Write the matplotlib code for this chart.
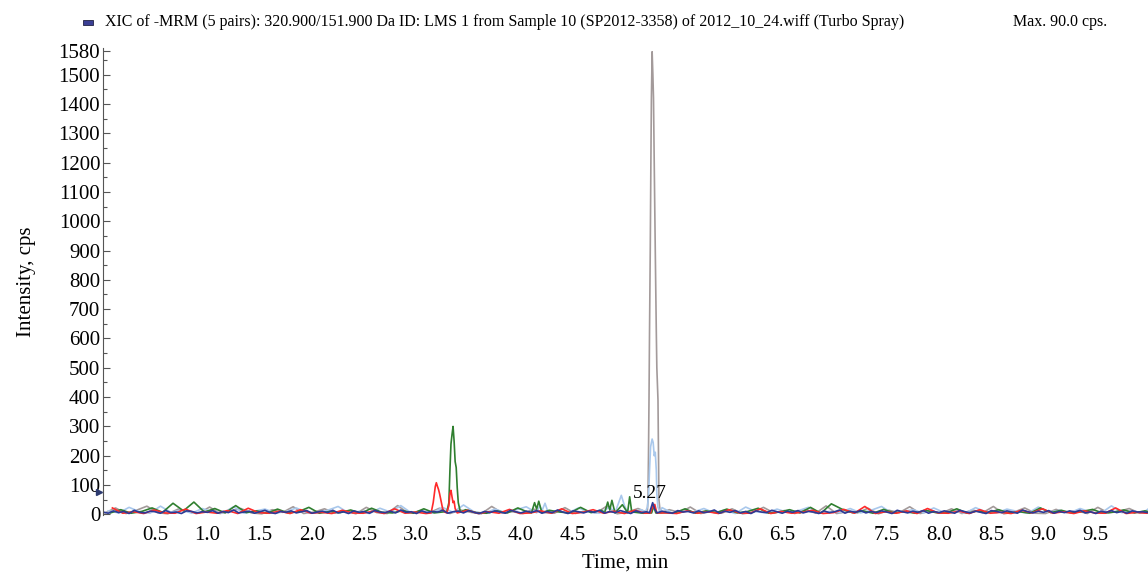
"""XIC chromatogram, 5 MRM pairs."""

import numpy as np
import matplotlib
matplotlib.use("Agg")
import matplotlib.pyplot as plt
import matplotlib.transforms as mtransforms

plt.rcParams["font.family"] = ["Liberation Serif", "DejaVu Serif"]

# Baseline noise (cps). Navy is read every 0.05 min, the others every 0.1 min.
noise_navy = [8, 4, 12, 6, 10, 3, 14, 7, 5, 11, 9, 4, 13, 6, 8, 3, 12, 10, 5, 9,
              7, 13, 4, 10, 6, 15, 5, 8, 11, 4, 9, 14, 6, 3, 10, 7, 12, 5, 9, 13,
              4, 8, 11, 6, 14, 5, 9, 3, 12, 7, 10, 4, 13, 8, 6, 11, 5, 15, 7, 9,
              3, 12, 6, 10, 8, 14, 4, 9, 11, 5, 13, 7, 3, 10, 6, 12, 8, 4, 14, 9,
              5, 11, 7, 13, 4, 10, 6, 15, 8, 3, 12, 9, 5, 11, 7, 14, 4, 10, 6, 13,
              8, 3, 12, 6, 9, 14, 5, 11, 7, 4, 13, 8, 10, 5, 12, 6, 9, 15, 4, 11,
              7, 13, 5, 10, 3, 12, 8, 6, 14, 9, 4, 11, 7, 13, 5, 10, 8, 3, 12, 6,
              9, 15, 4, 11, 7, 13, 5, 10, 6, 12, 8, 3, 14, 9, 5, 11, 7, 13, 4, 10,
              6, 12, 8, 4, 14, 9, 5, 11, 7, 3, 13, 10, 6, 12, 8, 4, 15, 9, 5, 11,
              7, 13, 4, 10, 6, 12, 8, 14, 5, 9, 3, 11, 7, 13, 6, 10, 4, 12, 8, 9, 6]
noise_gray = [5, 22, 3, 14, 28, 6, 2, 18, 9, 4, 25, 3, 11, 20, 5, 2, 16, 7, 26, 3,
              8, 19, 4, 12, 2, 24, 6, 3, 30, 4, 10, 5, 21, 3, 15, 7, 2, 27, 5, 9,
              3, 18, 6, 4, 23, 3, 12, 5, 28, 2, 8, 20, 4, 3, 16, 6, 25, 3, 10, 4,
              19, 2, 7, 24, 5, 13, 3, 17, 4, 29, 3, 9, 5, 21, 2, 14, 6, 26, 3, 11,
              4, 19, 3, 15, 6, 27, 2, 8, 22, 4, 3, 17, 6, 12, 3, 24, 5, 10, 20, 4, 6]
noise_lblue = [12, 5, 24, 9, 4, 28, 7, 15, 4, 20, 8, 5, 26, 4, 11, 18, 5, 9, 22, 6,
               4, 14, 27, 5, 10, 3, 21, 8, 30, 5, 13, 4, 24, 7, 32, 9, 4, 18, 6, 15,
               26, 7, 34, 12, 5, 22, 8, 4, 25, 10, 6, 16, 7, 23, 4, 13, 8, 20, 5, 15,
               3, 25, 9, 5, 18, 7, 12, 24, 4, 10, 6, 20, 5, 14, 27, 4, 9, 16, 5, 22,
               6, 12, 4, 23, 8, 5, 18, 10, 4, 25, 7, 14, 5, 20, 8, 4, 29, 6, 12, 5, 31]
noise_green = [5, 16, 4, 10, 22, 7, 38, 12, 42, 8, 20, 5, 30, 6, 12, 4, 18, 5, 9, 24,
               4, 10, 6, 15, 4, 21, 7, 5, 13, 4, 19, 5, 9, 4, 16, 6, 4, 12, 5, 22,
               7, 28, 14, 8, 5, 24, 6, 14, 5, 33, 8, 4, 16, 6, 5, 19, 4, 12, 6, 18,
               5, 10, 21, 4, 8, 16, 5, 24, 4, 36, 18, 6, 12, 4, 17, 5, 10, 4, 14, 6,
               5, 19, 4, 12, 6, 16, 5, 9, 4, 22, 6, 14, 5, 10, 17, 4, 8, 15, 5, 12, 4]
noise_red = [22, 4, 9, 3, 15, 5, 4, 18, 3, 8, 4, 13, 3, 21, 6, 4, 11, 3, 16, 4,
             7, 3, 14, 5, 4, 11, 3, 19, 4, 8, 3, 27, 6, 4, 14, 3, 9, 4, 17, 3,
             5, 12, 4, 19, 3, 7, 16, 4, 11, 3, 14, 4, 22, 5, 3, 12, 4, 9, 3, 16,
             5, 4, 19, 3, 10, 4, 7, 14, 3, 6, 17, 4, 27, 3, 9, 4, 12, 3, 20, 5,
             4, 11, 3, 16, 4, 7, 3, 14, 5, 19, 4, 9, 3, 12, 5, 4, 22, 3, 7, 4, 25]

# Peaks: (time in min, intensity in cps).
peaks_gray = [(5.20, 8), (5.21, 15), (5.215, 50), (5.22, 200), (5.225, 390),
              (5.23, 620), (5.237, 900), (5.243, 1200), (5.248, 1420),
              (5.255, 1578), (5.262, 1500), (5.268, 1420), (5.275, 1200),
              (5.285, 900), (5.295, 620), (5.30, 500), (5.311, 390),
              (5.316, 200), (5.32, 50), (5.33, 15), (5.34, 6)]
peaks_lblue = [(4.15, 5), (4.18, 30), (4.20, 12), (4.23, 38), (4.26, 6),
               (4.90, 6), (4.93, 35), (4.96, 65), (4.99, 30), (5.02, 8),
               (5.19, 8), (5.21, 25), (5.22, 60), (5.23, 150), (5.24, 230),
               (5.255, 257), (5.265, 245), (5.275, 200), (5.285, 212),
               (5.295, 150), (5.30, 70), (5.31, 25), (5.33, 8)]
peaks_green = [(3.29, 8), (3.31, 40), (3.32, 150), (3.33, 240), (3.34, 272),
               (3.35, 300), (3.36, 250), (3.37, 180), (3.38, 160), (3.39, 90),
               (3.40, 40), (3.42, 8),
               (4.10, 5), (4.13, 40), (4.15, 18), (4.17, 45), (4.20, 6),
               (4.80, 5), (4.83, 42), (4.85, 15), (4.87, 48), (4.90, 5),
               (5.02, 6), (5.04, 60), (5.06, 8),
               (5.25, 5), (5.27, 28), (5.29, 5)]
peaks_red = [(3.14, 5), (3.16, 40), (3.18, 95), (3.19, 108), (3.20, 96),
             (3.21, 86), (3.22, 72), (3.23, 55), (3.25, 20), (3.27, 8),
             (3.29, 5), (3.31, 30), (3.32, 70), (3.33, 82), (3.34, 60),
             (3.35, 40), (3.36, 45), (3.37, 20), (3.39, 5),
             (5.24, 5), (5.26, 30), (5.27, 22), (5.28, 34), (5.30, 5)]
peaks_navy = [(5.23, 6), (5.26, 40), (5.28, 18), (5.30, 6)]

# name, noise, step (min), first time, peaks, colour
traces = [
    ("gray", noise_gray, 0.1, 0.02, peaks_gray, "#a39a9a"),
    ("lblue", noise_lblue, 0.1, 0.05, peaks_lblue, "#a9c8ec"),
    ("green", noise_green, 0.1, 0.07, peaks_green, "#2f7f2f"),
    ("red", noise_red, 0.1, 0.09, peaks_red, "#ff2a2a"),
    ("navy", noise_navy, 0.05, 0.0, peaks_navy, "#2c3a96"),
]

peak_label = "5.27"
header = ("XIC of -MRM (5 pairs): 320.900/151.900 Da ID: LMS 1 from Sample 10 "
          "(SP2012-3358) of 2012_10_24.wiff (Turbo Spray)")
max_text = "Max. 90.0 cps."


def merge(noise, step, offset, peaks):
    """Put the peak points into the baseline, dropping noise they cover."""
    t = offset + step * np.arange(len(noise))
    y = np.array(noise, dtype=float)
    pt = np.array([p[0] for p in peaks])
    py = np.array([p[1] for p in peaks], dtype=float)
    keep = np.ones(len(t), dtype=bool)
    # Split peak points into groups and blank the noise under each group.
    groups = np.split(np.arange(len(pt)), np.where(np.diff(pt) > 0.05)[0] + 1)
    for g in groups:
        keep &= ~((t >= pt[g].min()) & (t <= pt[g].max()))
    tt = np.concatenate([t[keep], pt])
    yy = np.concatenate([y[keep], py])
    order = np.argsort(tt)
    return tt[order], yy[order]


figure = plt.figure(figsize=(11.48, 5.72), dpi=100)
axis = figure.add_axes([0.0897, 0.0997, 0.9103, 0.816])

for name, noise, step, offset, peaks, color in traces:
    t, y = merge(noise, step, offset, peaks)
    axis.plot(t, y, color=color, linewidth=1.2)

axis.set_xlim(0, 10.0)
axis.set_ylim(-2, 1590)

axis.set_yticks(list(range(0, 1600, 100)) + [1580])
axis.set_yticks(range(50, 1600, 100), minor=True)
axis.set_xticks(np.arange(0.5, 10, 0.5))
axis.set_xticklabels(["%.1f" % v for v in np.arange(0.5, 10, 0.5)])
axis.tick_params(axis="y", direction="in", length=5, width=0.8,
                 color="#555555", labelsize=15, pad=2)
axis.tick_params(axis="y", which="minor", direction="in", length=3,
                 width=0.8, color="#555555")
axis.tick_params(axis="x", length=0, labelsize=15, pad=8)

for side in ("top", "right", "bottom"):
    axis.spines[side].set_visible(False)
axis.spines["left"].set_color("#555555")
axis.spines["left"].set_linewidth(0.8)

axis.set_xlabel("Time, min", fontsize=15, labelpad=6)
axis.set_ylabel("Intensity, cps", fontsize=15, labelpad=16)

axis.text(5.23, 42, peak_label, fontsize=14, ha="center", va="bottom")

# Threshold marker just left of the axis.
shift = mtransforms.offset_copy(axis.transData, fig=figure, x=-3, y=0,
                                units="points")
axis.plot([0], [75], marker=">", markersize=5, color="#2c3a70",
          transform=shift, clip_on=False)

# Header line with the small legend swatch.
figure.patches.append(plt.Rectangle((83 / 1148, 1 - 25 / 572), 10 / 1148,
                                    5 / 572, transform=figure.transFigure,
                                    facecolor="#3b3f94", edgecolor="#222244",
                                    linewidth=0.6))
figure.text(105 / 1148, 1 - 22 / 572, header, fontsize=11.5, va="center")
figure.text(1013 / 1148, 1 - 22 / 572, max_text, fontsize=11.5, va="center")

figure.savefig("out.png", dpi=100)
